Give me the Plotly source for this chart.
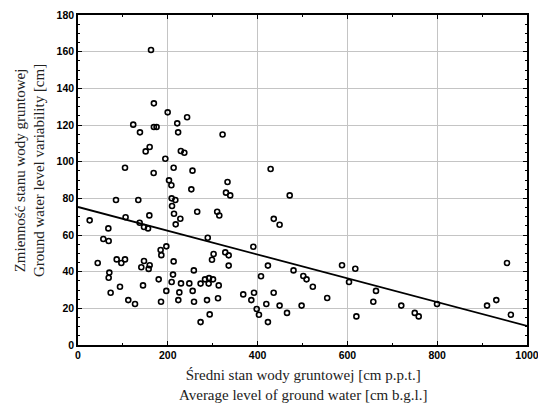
import plotly.graph_objects as go

# Data points (average ground water level [cm], variability [cm])
level_cm = [162.6, 169, 199.7, 243, 123, 169, 175, 221, 138, 223, 322, 159.6, 150.7, 229, 236.8,
            194.5, 104.7, 213, 255, 168.5, 429, 202.7, 208, 333, 252.4, 329.6, 339, 471.5, 84.6,
            134.3, 208.6, 216.8, 209.4, 265.5, 310, 314.7, 436, 106, 158.9, 213.8, 227.9, 26,
            217.6, 449, 137.3, 147, 156, 67.6, 56.4, 68.3, 289, 184, 185.6, 196.8, 390.5, 302,
            328, 335.6, 298.4, 335.6, 423, 43.9, 86.2, 96.5, 104.7, 147, 141, 159.6, 157.4, 213,
            258, 480, 69.8, 68.3, 211.6, 179.7, 208.6, 229.4, 247.9, 273, 282.9, 291.8, 300.7,
            291, 313.4, 407.6, 501.8, 509, 523, 93.5, 144.8, 196.7, 72.7, 225.7, 255.4, 368, 392,
            435.8, 112, 127, 184.9, 223.4, 258.4, 287.3, 311.8, 386, 419.4, 449, 498, 398, 403,
            293.3, 465.5, 273, 423, 555, 588, 617.6, 603.6, 663.7, 657.7, 620, 720, 750, 758.8,
            799.6, 911, 931.6, 955.5, 964]
variability_cm = [160.9, 131.8, 126.9, 124.2, 120.2, 118.9, 118.9, 120.9, 116, 116, 114.8, 108,
                  105.6, 105.8, 104.9, 101.6, 96.7, 96.7, 95.1, 93.8, 96, 89.8, 87.1, 88.9, 84.9,
                  83.1, 81.6, 81.6, 79.1, 79.1, 80, 79.1, 75.8, 72.7, 72.7, 70.6, 68.8, 69.7, 70.7,
                  71.6, 68.9, 68, 65.8, 65.6, 66.7, 64.4, 63.6, 63.6, 57.8, 56.7, 58.5, 51.8, 49,
                  53.8, 53.6, 49.6, 50.5, 48.9, 46.5, 43.3, 43.3, 44.7, 46.7, 44.7, 46.7, 45.8,
                  42.4, 43.5, 41.5, 45.6, 40.7, 40.7, 39.5, 36.7, 38.4, 35.8, 34.4, 33.6, 33.6,
                  33.5, 35.8, 36.5, 35.8, 33.5, 32.5, 37.5, 37.6, 35.8, 31.8, 31.8, 32.5, 29.5,
                  28.5, 28.7, 29.5, 27.6, 28.5, 28.5, 24.5, 22.4, 23.6, 24.5, 23.6, 24.5, 25.5,
                  24.5, 22.4, 21.5, 21.5, 19.6, 16.5, 16.7, 17.5, 12.5, 12.5, 25.6, 43.5, 41.6,
                  34.4, 29.5, 23.6, 15.6, 21.5, 17.5, 15.6, 22.4, 21.5, 24.5, 44.7, 16.5]

# Fitted trend line
fit_x = [0, 1000]
fit_y = [75.3, 10.4]

x_ticks = [0, 200, 400, 600, 800, 1000]
y_ticks = [0, 20, 40, 60, 80, 100, 120, 140, 160, 180]

x_title = "Średni stan wody gruntowej [cm p.p.t.]<br>Average level of ground water [cm b.g.l.]"
y_title = "Zmienność stanu wody gruntowej<br>Ground water level variability [cm]"

fig = go.Figure()
fig.add_trace(go.Scatter(
    x=level_cm, y=variability_cm, mode="markers",
    marker=dict(symbol="circle-open", size=5, color="black", line=dict(width=1.6, color="black")),
    showlegend=False, hoverinfo="x+y"))
fig.add_trace(go.Scatter(
    x=fit_x, y=fit_y, mode="lines",
    line=dict(color="black", width=1.8), showlegend=False))

tickfont = dict(family="Liberation Sans, Arial, sans-serif", size=10.5, color="black", weight="bold")
axis_common = dict(
    showline=True, linecolor="black", linewidth=1.5, mirror="ticks",
    ticks="inside", ticklen=4, tickwidth=1, tickcolor="black",
    showgrid=True, gridcolor="#c4c4c4", gridwidth=1,
    zeroline=False, tickfont=tickfont, fixedrange=True, automargin=False,
    ticklabeloverflow="allow",
)
fig.update_xaxes(range=[0, 1000], tickvals=x_ticks, ticktext=[str(v) for v in x_ticks],
                 minor=dict(dtick=100, ticks="inside", ticklen=2.5, tickcolor="black", showgrid=False),
                 **axis_common)
fig.update_yaxes(range=[0, 180], tickvals=y_ticks, ticktext=[str(v) for v in y_ticks],
                 minor=dict(dtick=5, ticks="inside", ticklen=2.5, tickcolor="black", showgrid=False),
                 **axis_common)

serif = dict(family="Liberation Serif, Times New Roman, serif", size=15, color="#222")
fig.add_annotation(text=x_title, xref="paper", yref="paper", x=0.5, y=-0.062,
                   xanchor="center", yanchor="top", showarrow=False, font=serif, align="center")
fig.add_annotation(text=y_title, xref="paper", yref="paper", x=-0.107, y=0.53,
                   xanchor="center", yanchor="middle", showarrow=False, font=serif,
                   textangle=-90, align="center")

fig.update_layout(
    width=538, height=403,
    margin=dict(l=78, r=11, t=15, b=58),
    paper_bgcolor="white", plot_bgcolor="white",
)
fig.write_html("out.html")
